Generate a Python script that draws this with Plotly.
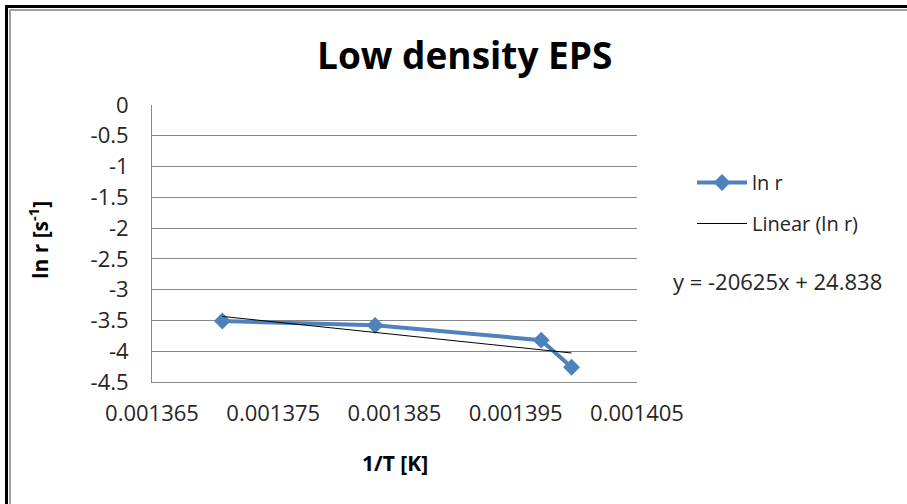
import plotly.graph_objects as go

# ---- data ----
inv_T = [0.0013708, 0.0013834, 0.0013971, 0.0013996]
ln_r = [-3.51, -3.58, -3.82, -4.26]
trend_slope = -20625
trend_intercept = 24.838
x_ticks = [0.001365, 0.001375, 0.001385, 0.001395, 0.001405]
x_tick_labels = ["0.001365", "0.001375", "0.001385", "0.001395", "0.001405"]
y_ticks = [0, -0.5, -1, -1.5, -2, -2.5, -3, -3.5, -4, -4.5]
y_tick_labels = ["0", "-0.5", "-1", "-1.5", "-2", "-2.5", "-3", "-3.5", "-4", "-4.5"]

W, H = 907, 504
L, R, T, B = 152, 637, 105, 382  # plot area in pixels

def px(xp):
    return (xp - L) / (R - L)

def py(yp):
    return (B - yp) / (B - T)

trend_x = [min(inv_T), max(inv_T)]
trend_y = [trend_slope * v + trend_intercept for v in trend_x]

FONT = "Open Sans"
TXT = "#262626"

fig = go.Figure()
fig.add_trace(go.Scatter(
    x=inv_T, y=ln_r, mode="lines+markers", name="ln r", legendgroup="a",
    line=dict(color="#4F81BD", width=4),
    marker=dict(symbol="diamond", size=13, color="#4F81BD"),
))
fig.add_trace(go.Scatter(
    x=trend_x, y=trend_y, mode="lines", name="Linear (ln r)", legendgroup="b",
    line=dict(color="black", width=1),
))

fig.update_layout(
    width=W, height=H, autosize=False,
    margin=dict(l=L, r=W - R, t=T, b=H - B, pad=0),
    paper_bgcolor="white", plot_bgcolor="white",
    font=dict(family=FONT, size=20, color=TXT),
    showlegend=True,
    legend=dict(
        x=px(692), y=py(163), xanchor="left", yanchor="top",
        traceorder="grouped", tracegroupgap=12, itemwidth=50,
        font=dict(family=FONT, size=20, color=TXT),
        bgcolor="rgba(0,0,0,0)",
    ),
    xaxis=dict(
        range=[x_ticks[0], x_ticks[-1]], tickvals=x_ticks, ticktext=x_tick_labels,
        showgrid=False, zeroline=False, showline=True, linecolor="#868686", linewidth=1,
        ticks="", ticklabelstandoff=12, tickfont=dict(family=FONT, size=22, color=TXT),
    ),
    yaxis=dict(
        range=[-4.5, 0], tickvals=y_ticks, ticktext=y_tick_labels,
        showgrid=True, gridcolor="#868686", gridwidth=1, zeroline=False,
        showline=True, linecolor="#868686", linewidth=1,
        ticks="", ticklabelstandoff=18, tickfont=dict(family=FONT, size=22, color=TXT),
    ),
)

ann = [
    dict(text="<b>Low density EPS</b>", x=px(464), y=py(54), font=dict(family=FONT, size=37, color="black")),
    dict(text="<b>1/T [K]</b>", x=px(395), y=py(463), font=dict(family=FONT, size=21, color="black")),
    dict(text="<b>ln r [s<sup>-1</sup>]</b>", x=px(38), y=py(240), textangle=-90, font=dict(family=FONT, size=21, color="black")),
    dict(text="y = -20625x + 24.838", x=px(777), y=py(281), font=dict(family=FONT, size=22, color=TXT)),
]
for a in ann:
    fig.add_annotation(xref="paper", yref="paper", showarrow=False, xanchor="center", yanchor="middle", **a)

# outer frame
shapes = [
    dict(x0=px(5), x1=px(W + 2), y0=py(6.5), y1=py(6.5), line=dict(color="black", width=3)),
    dict(x0=px(6.5), x1=px(6.5), y0=py(5), y1=py(H + 2), line=dict(color="black", width=3)),
    dict(x0=px(9), x1=px(W + 2), y0=py(10), y1=py(10), line=dict(color="#A0A0A0", width=2)),
    dict(x0=px(10), x1=px(10), y0=py(9), y1=py(H + 2), line=dict(color="#A0A0A0", width=2)),
]
for s in shapes:
    fig.add_shape(type="line", xref="paper", yref="paper", **s)

fig.write_html("out.html", config={"displayModeBar": False},
               post_script="document.body.style.margin='0';")
